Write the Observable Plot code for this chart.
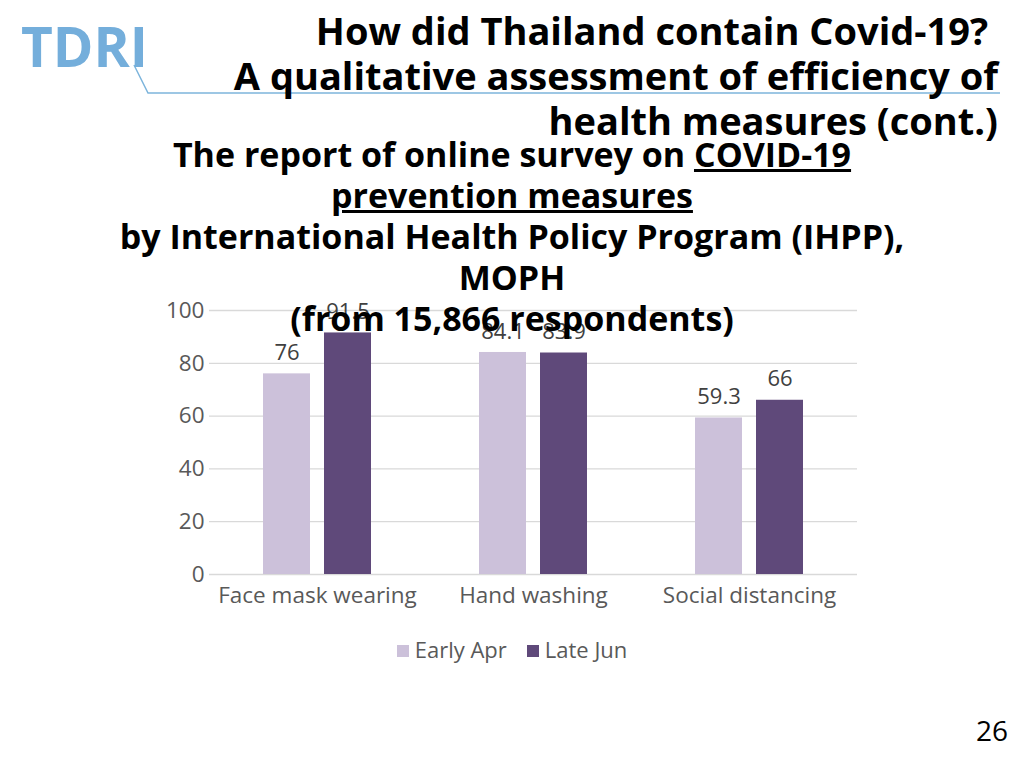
<!DOCTYPE html>
<html>
<head>
<meta charset="utf-8">
<script src="https://cdn.jsdelivr.net/npm/d3@7"></script>
<script src="https://cdn.jsdelivr.net/npm/@observablehq/plot@0.6"></script>
<style>
  html, body { margin: 0; padding: 0; background: #fff; }
  #page { position: relative; width: 1024px; height: 768px; overflow: hidden; font-family: "Open Sans", sans-serif; }
  #logo { position: absolute; left: 21px; top: 16px; font-family: "Open Sans", sans-serif; font-weight: 700; font-size: 55px; color: #74aedb; letter-spacing: 0px; line-height: 1.1; padding-right: 4px; }
  #title { position: absolute; right: 26px; top: 8px; text-align: right; font-weight: 700; font-size: 38px; line-height: 45px; color: #000; white-space: nowrap; }
  #subtitle { position: absolute; left: 0; width: 1024px; top: 134px; text-align: center; font-weight: 700; font-size: 34px; line-height: 41px; color: #000; z-index: 5; white-space: nowrap; }
  #chart { position: absolute; left: 0; top: 290px; }
  #legend { position: absolute; left: 0; width: 1024px; top: 634px; text-align: center; font-size: 22px; color: #595959; }
  #legend span.item { display: inline-block; margin: 0 10px; }
  #legend span.sw { display: inline-block; width: 12px; height: 12px; margin-right: 6px; vertical-align: 1px; }
  #pnum { position: absolute; left: 976px; top: 711px; font-size: 28px; color: #000; }
  #deco { position: absolute; left: 0; top: 0; }
</style>
</head>
<body>
<div id="page">
  <svg id="deco" width="1024" height="120"><polyline points="134,65 148,93 1000,93" fill="none" stroke="#7db5dc" stroke-width="1.5"/></svg>
  <div id="logo">TDRI</div>
  <div id="title">How did Thailand contain Covid-19?&nbsp;<br>A qualitative assessment of efficiency of<br>health measures (cont.)</div>
  <div id="chart"></div>
  <div id="subtitle">The report of online survey on <u>COVID-19</u><br><u>prevention measures</u><br>by International Health Policy Program (IHPP),<br>MOPH<br>(from 15,866 respondents)</div>
  <div id="legend"></div>
  <div id="pnum">26</div>
</div>
<script>
const categories = ["Face mask wearing", "Hand washing", "Social distancing"];
const series = ["Early Apr", "Late Jun"];
const earlyApr = [76, 84.1, 59.3];
const lateJun = [91.5, 83.9, 66];
const seriesColors = ["#CCC1DA", "#5F497A"];
const yTicks = [0, 20, 40, 60, 80, 100];

const values = {"Early Apr": earlyApr, "Late Jun": lateJun};
const rows = [];
categories.forEach((c, i) => series.forEach(s => rows.push({category: c, series: s, value: values[s][i]})));

const chart = Plot.plot({
  width: 1024,
  height: 330,
  marginLeft: 208,
  marginRight: 166,
  marginTop: 20,
  marginBottom: 46,
  style: {fontFamily: "Open Sans", fontSize: "22.5px", color: "#595959", background: "transparent", overflow: "visible"},
  fx: {domain: categories, padding: 0, label: null, axis: "bottom", tickSize: 0, tickPadding: 13},
  x: {domain: series, paddingInner: 0.226, paddingOuter: 0.86, axis: null},
  y: {domain: [0, 100], ticks: yTicks, label: null, tickSize: 0, tickPadding: 5},
  color: {domain: series, range: seriesColors},
  marks: [
    Plot.ruleY(yTicks, {stroke: "#d9d9d9", strokeWidth: 1.3}),
    Plot.barY(rows, {fx: "category", x: "series", y: "value", fill: "series"}),
    Plot.text(rows, {fx: "category", x: "series", y: "value", text: d => String(d.value), dy: -21, fill: "#404040", fontSize: 22})
  ]
});
document.getElementById("chart").appendChild(chart);

const legend = document.getElementById("legend");
series.forEach((s, i) => {
  const item = document.createElement("span");
  item.className = "item";
  const sw = document.createElement("span");
  sw.className = "sw";
  sw.style.background = seriesColors[i];
  item.appendChild(sw);
  item.appendChild(document.createTextNode(s));
  legend.appendChild(item);
});
</script>
</body>
</html>
